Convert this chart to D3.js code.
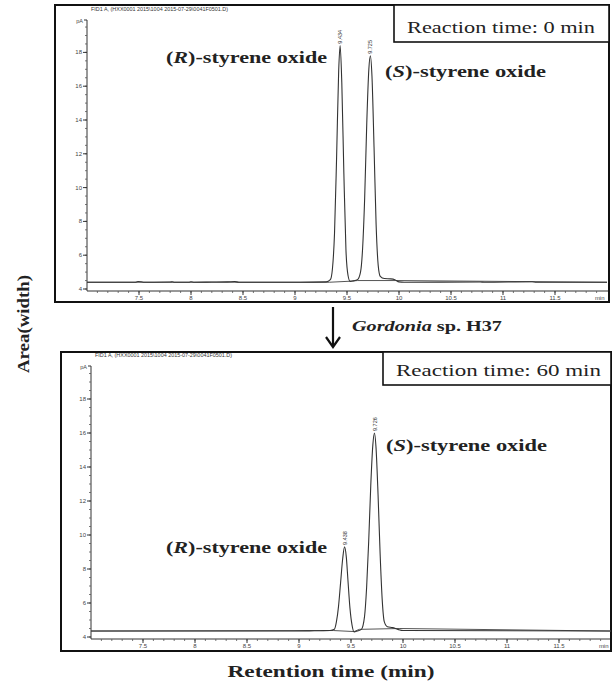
<!DOCTYPE html>
<html><head><meta charset="utf-8">
<script src="https://cdn.jsdelivr.net/npm/d3@7"></script>
<style>body{margin:0;background:#fff}svg{display:block}</style>
</head><body>
<svg id="c" width="612" height="685"></svg>
<script>
// ---------- data ----------
const xTickValues = [7.5, 8, 8.5, 9, 9.5, 10, 10.5, 11, 11.5];
const xTickLabels = ["7.5", "8", "8.5", "9", "9.5", "10", "10.5", "11", "11.5"];
const yTickValues = [4, 6, 8, 10, 12, 14, 16, 18];
const yTickLabels = ["4", "6", "8", "10", "12", "14", "16", "18"];

// 0 min chromatogram (time in min, signal in pA)
const topTime   = [7.00,7.46,7.49,7.52,7.55,7.80,7.82,7.84,7.98,8.00,8.03,8.20,8.35,8.42,8.46,9.05,9.30,9.34,9.36,9.38,9.40,9.42,9.434,9.45,9.47,9.49,9.51,9.53,9.56,9.60,9.63,9.65,9.67,9.69,9.71,9.725,9.74,9.76,9.78,9.80,9.82,9.86,9.92,9.96,10.00,10.05,10.78,10.82,11.28,11.32,12.00];
const topSignal = [4.40,4.40,4.44,4.43,4.40,4.41,4.43,4.40,4.40,4.43,4.40,4.41,4.42,4.44,4.40,4.40,4.42,4.55,5.2,7.3,11.8,16.9,18.4,16.2,10.8,6.3,4.8,4.45,4.48,4.55,5.0,6.4,9.4,13.8,17.0,17.8,16.6,12.4,7.8,5.4,4.75,4.62,4.60,4.55,4.42,4.40,4.41,4.40,4.43,4.40,4.40];
const topBaseTime = [7.00, 9.33, 9.53, 9.60, 9.97, 12.00];
const topBaseSignal = [4.40, 4.40, 4.46, 4.50, 4.50, 4.40];
const topPeakTimes = [9.434, 9.725];
const topPeakHeights = [18.4, 17.8];
const topPeakLabels = ["9.434", "9.725"];

// 60 min chromatogram
const botTime   = [7.00,8.95,9.10,9.20,9.30,9.34,9.36,9.38,9.40,9.42,9.438,9.455,9.47,9.49,9.51,9.53,9.56,9.60,9.63,9.65,9.67,9.69,9.71,9.726,9.74,9.76,9.78,9.80,9.82,9.85,9.90,9.95,10.00,12.00];
const botSignal = [4.35,4.35,4.36,4.37,4.38,4.45,4.9,5.8,7.2,8.6,9.3,8.7,7.4,5.7,4.7,4.30,4.35,4.45,5.2,6.9,9.6,12.9,15.3,16.0,15.2,12.4,8.9,6.2,4.9,4.6,4.55,4.45,4.38,4.35];
const botBaseTime = [7.00, 9.33, 9.53, 9.58, 9.97, 12.00];
const botBaseSignal = [4.35, 4.38, 4.32, 4.45, 4.50, 4.35];
const botPeakTimes = [9.438, 9.726];
const botPeakHeights = [9.3, 16.0];
const botPeakLabels = ["9.438", "9.726"];

const fileLabels = ["FID1 A, (HXX0001 2015\\1004 2015-07-29\\0041F0501.D)", "FID1 A, (HXX0001 2015\\1004 2015-07-29\\0041F0501.D)"];
const reactionLabels = ["Reaction time: 0 min", "Reaction time: 60 min"];

// ---------- drawing ----------
const svg = d3.select("#c");
const serif = "'Liberation Serif','Times New Roman',serif";
const sans = "'Liberation Sans',Arial,sans-serif";

function panel(cfg) {
  const g = svg.append("g");
  g.append("rect").attr("x", cfg.fx).attr("y", cfg.fy).attr("width", cfg.fw).attr("height", cfg.fh)
    .attr("fill", "none").attr("stroke", "#111").attr("stroke-width", 2);

  const x = d3.scaleLinear().domain([7, 12]).range([cfg.x0, cfg.x0 + 520]);
  const y = d3.scaleLinear().domain([4, 18]).range([cfg.y4, cfg.y18]);
  const yTopVal = y.invert(cfg.yTop);

  g.append("line").attr("x1", cfg.x0).attr("x2", cfg.x0).attr("y1", cfg.yTop).attr("y2", cfg.xAxisY)
    .attr("stroke", "#333").attr("stroke-width", 1);
  const yMinor = d3.range(4, yTopVal, 0.5);
  g.selectAll(null).data(yMinor).join("line")
    .attr("x1", cfg.x0 - 2).attr("x2", cfg.x0).attr("y1", d => y(d)).attr("y2", d => y(d))
    .attr("stroke", "#555").attr("stroke-width", 0.8);
  g.selectAll(null).data(yTickValues).join("line")
    .attr("x1", cfg.x0 - 4).attr("x2", cfg.x0).attr("y1", d => y(d)).attr("y2", d => y(d))
    .attr("stroke", "#333").attr("stroke-width", 1);
  g.selectAll(null).data(yTickValues).join("text")
    .attr("x", cfg.x0 - 5).attr("y", d => y(d) + 2).attr("text-anchor", "end")
    .attr("font-family", sans).attr("font-size", 6).attr("fill", "#444")
    .text((d, i) => yTickLabels[i]);
  g.append("text").attr("x", cfg.x0 - 4).attr("y", cfg.yTop + 3).attr("text-anchor", "end")
    .attr("font-family", sans).attr("font-size", 5.5).attr("fill", "#444").text("pA");
  g.append("line").attr("x1", cfg.x0 - 3).attr("x2", cfg.x0).attr("y1", cfg.yTop).attr("y2", cfg.yTop)
    .attr("stroke", "#333");

  g.append("line").attr("x1", cfg.x0).attr("x2", cfg.fx + cfg.fw - 1).attr("y1", cfg.xAxisY).attr("y2", cfg.xAxisY)
    .attr("stroke", "#333").attr("stroke-width", 1);
  const xMinor = d3.range(7.1, 12.0, 0.1);
  g.selectAll(null).data(xMinor).join("line")
    .attr("x1", d => x(d)).attr("x2", d => x(d)).attr("y1", cfg.xAxisY).attr("y2", cfg.xAxisY + 2)
    .attr("stroke", "#555").attr("stroke-width", 0.8);
  g.selectAll(null).data(xTickValues).join("line")
    .attr("x1", d => x(d)).attr("x2", d => x(d)).attr("y1", cfg.xAxisY).attr("y2", cfg.xAxisY + 4)
    .attr("stroke", "#333").attr("stroke-width", 1);
  g.selectAll(null).data(xTickValues).join("text")
    .attr("x", d => x(d)).attr("y", cfg.xAxisY + 9).attr("text-anchor", "middle")
    .attr("font-family", sans).attr("font-size", 6).attr("fill", "#444")
    .text((d, i) => xTickLabels[i]);
  g.append("text").attr("x", x(11.93)).attr("y", cfg.xAxisY + 9).attr("text-anchor", "middle")
    .attr("font-family", sans).attr("font-size", 6).attr("fill", "#444").text("min");

  g.append("text").attr("x", cfg.x0 + 4).attr("y", cfg.yTop - 9)
    .attr("font-family", sans).attr("font-size", 5.5).attr("fill", "#333")
    .attr("textLength", 137).attr("lengthAdjust", "spacingAndGlyphs").text(cfg.file);

  const line = d3.line().x(d => x(d[0])).y(d => y(d[1]));
  g.append("path").datum(cfg.baseT.map((t, i) => [t, cfg.baseS[i]]))
    .attr("d", line).attr("fill", "none").attr("stroke", "#555").attr("stroke-width", 1);
  const curve = d3.line().x(d => x(d[0])).y(d => y(d[1])).curve(d3.curveMonotoneX);
  g.append("path").datum(cfg.t.map((t, i) => [t, cfg.s[i]]))
    .attr("d", curve).attr("fill", "none").attr("stroke", "#333").attr("stroke-width", 1.1);

  cfg.pk.forEach((t, i) => {
    const px = x(t), py = y(cfg.pkH[i]) - 2;
    g.append("text").attr("transform", `translate(${px + 2},${py}) rotate(-90)`)
      .attr("font-family", sans).attr("font-size", 5.5).attr("fill", "#333").text(cfg.pkL[i]);
  });

  g.append("rect").attr("x", cfg.bx).attr("y", cfg.fy).attr("width", cfg.fx + cfg.fw - cfg.bx).attr("height", cfg.bh)
    .attr("fill", "#fff").attr("stroke", "#111").attr("stroke-width", 1.6);
  g.append("text").attr("x", cfg.bx + 13).attr("y", cfg.fy + cfg.bh - 9)
    .attr("font-family", serif).attr("font-size", 16.5).attr("fill", "#222")
    .attr("textLength", cfg.bw).attr("lengthAdjust", "spacingAndGlyphs").text(cfg.reaction);

  function comp(letter, tx, ty) {
    const t = g.append("text").attr("x", tx).attr("y", ty).attr("font-family", serif)
      .attr("font-size", 17).attr("font-weight", "bold").attr("fill", "#222")
      .attr("textLength", 161).attr("lengthAdjust", "spacingAndGlyphs");
    t.append("tspan").text("(");
    t.append("tspan").attr("font-style", "italic").text(letter);
    t.append("tspan").text(")-styrene oxide");
  }
  comp("R", cfg.rx, cfg.ry);
  comp("S", cfg.sx, cfg.sy);
}

panel({fx: 55, fy: 5, fw: 554, fh: 297, x0: 87, y4: 289, y18: 52.4, yTop: 20, xAxisY: 291,
  t: topTime, s: topSignal, baseT: topBaseTime, baseS: topBaseSignal,
  pk: topPeakTimes, pkH: topPeakHeights, pkL: topPeakLabels, file: fileLabels[0],
  bx: 394, bh: 37, bw: 188, reaction: reactionLabels[0],
  rx: 166, ry: 63, sx: 385, sy: 77});

panel({fx: 61, fy: 352, fw: 550, fh: 299, x0: 91, y4: 637, y18: 399, yTop: 366, xAxisY: 639,
  t: botTime, s: botSignal, baseT: botBaseTime, baseS: botBaseSignal,
  pk: botPeakTimes, pkH: botPeakHeights, pkL: botPeakLabels, file: fileLabels[1],
  bx: 383, bh: 33, bw: 205, reaction: reactionLabels[1],
  rx: 166, ry: 553, sx: 386, sy: 451});

svg.append("line").attr("x1", 333).attr("x2", 333).attr("y1", 307).attr("y2", 345)
  .attr("stroke", "#111").attr("stroke-width", 2.2);
svg.append("path").attr("d", "M326,337 L333,347 L340,337").attr("fill", "none")
  .attr("stroke", "#111").attr("stroke-width", 2.2);
const gl = svg.append("text").attr("x", 352).attr("y", 331).attr("font-family", serif)
  .attr("font-size", 15.5).attr("font-weight", "bold").attr("fill", "#222")
  .attr("textLength", 150).attr("lengthAdjust", "spacingAndGlyphs");
gl.append("tspan").attr("font-style", "italic").text("Gordonia");
gl.append("tspan").text(" sp. H37");

svg.append("text").attr("transform", "translate(29,324) rotate(-90)").attr("text-anchor", "middle")
  .attr("font-family", serif).attr("font-size", 17).attr("font-weight", "bold").attr("fill", "#222")
  .attr("textLength", 98).attr("lengthAdjust", "spacingAndGlyphs").text("Area(width)");
svg.append("text").attr("x", 331).attr("y", 677).attr("text-anchor", "middle")
  .attr("font-family", serif).attr("font-size", 17).attr("font-weight", "bold").attr("fill", "#222")
  .attr("textLength", 207).attr("lengthAdjust", "spacingAndGlyphs").text("Retention time (min)");
</script>
</body></html>
